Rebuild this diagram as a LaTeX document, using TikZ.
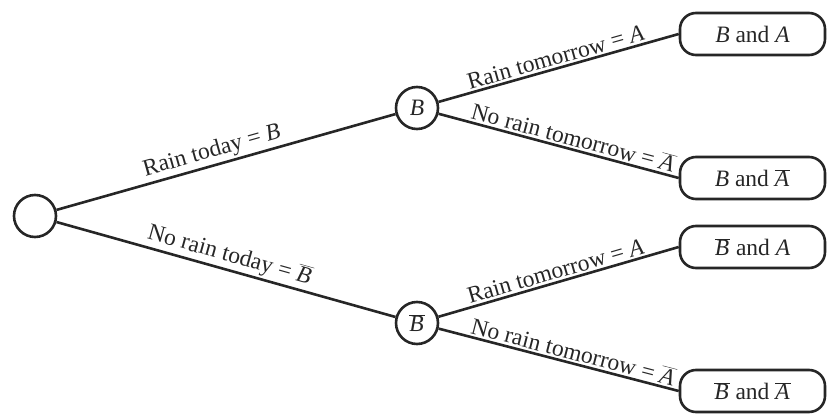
\documentclass[tikz,border=0pt]{standalone}
\usepackage{fontspec}
\setmainfont{Liberation Serif}
\definecolor{ink}{HTML}{262626}
% italic event letter, optionally with a bar for the complement
\newcommand\ev[1]{{\itshape #1}}
\newcommand\nev[1]{\ensuremath{\overline{\hbox{\itshape #1\kern1pt}}}}
\begin{document}
\begin{tikzpicture}[x=1pt,y=-1pt,
  every node/.style={font=\fontsize{23.5}{27}\selectfont, text=ink},
  state/.style={circle, draw=ink, line width=2.6pt, minimum size=42pt, inner sep=0pt},
  outcome/.style={draw=ink, line width=2.6pt, rounded corners=16pt,
    minimum width=145pt, minimum height=42pt, inner sep=0pt},
  branch/.style={draw=ink, line width=2.6pt},
  lbl/.style={sloped, above, inner sep=2pt}]
\useasboundingbox (0,0) rectangle (829,414);

% decision points
\node[state] (root) at (35,216) {};
\node[state] (b)    at (417,108) {\ev{B}};
\node[state] (nb)   at (417,323) {\nev{B}};

% outcomes
\node[outcome] (ba)   at (752.5,34)  {\ev{B} and \ev{A}};
\node[outcome] (bna)  at (752.5,178) {\ev{B} and \nev{A}};
\node[outcome] (nba)  at (752.5,247) {\nev{B} and \ev{A}};
\node[outcome] (nbna) at (752.5,391) {\nev{B} and \nev{A}};

% branches with their labels
\draw[branch] (root) -- node[lbl, pos=0.47] {Rain today = \ev{B}} (b);
\draw[branch] (root) -- node[lbl, pos=0.5] {No rain today = \nev{B}} (nb);

\draw[branch] (b) -- node[lbl, pos=0.5] {Rain tomorrow = \ev{A}} (ba.west);
\draw[branch] (b) -- node[lbl, pos=0.55] {No rain tomorrow = \nev{A}} (bna.west);

\draw[branch] (nb) -- node[lbl, pos=0.5] {Rain tomorrow = \ev{A}} (nba.west);
\draw[branch] (nb) -- node[lbl, pos=0.55] {No rain tomorrow = \nev{A}} (nbna.west);
\end{tikzpicture}
\end{document}
